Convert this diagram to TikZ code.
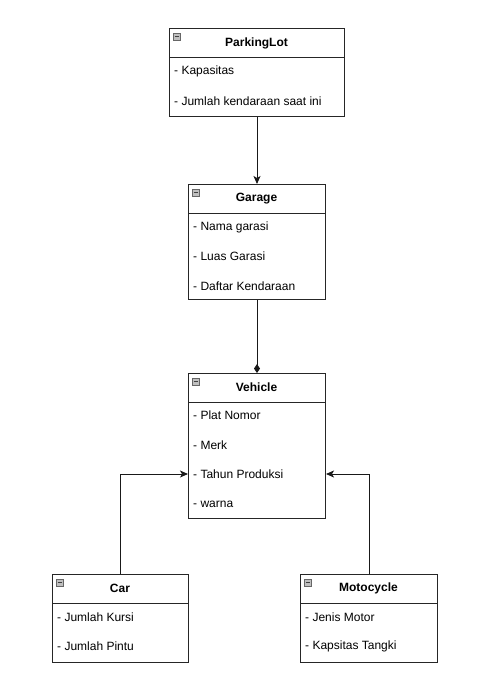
\documentclass[tikz,border=0pt]{standalone}
\usepackage{fontspec}
\setmainfont{Liberation Sans}
\usetikzlibrary{arrows.meta}
\begin{document}
\begin{tikzpicture}[x=1pt,y=-1pt,
  every node/.style={font=\fontsize{12}{14}\selectfont},
  umlbox/.style={draw=black!85, line width=1pt, anchor=north west, inner sep=0pt, fill=white},
  title/.style={font=\fontsize{12}{14}\selectfont\bfseries, anchor=center, inner sep=0pt},
  item/.style={anchor=west, inner sep=0pt},
  sep/.style={draw=black!85, line width=1pt},
  icon/.style={draw=black!60, fill=black!25, line width=0.6pt, minimum size=7pt, inner sep=0pt, anchor=north west,
    path picture={\draw[black!75, line width=1.2pt] ([xshift=1.3pt]path picture bounding box.west) -- ([xshift=-1.3pt]path picture bounding box.east);}},
  conn/.style={draw=black!90, line width=1pt},
  arr/.style={conn, -{Stealth[length=8pt,width=7pt,inset=2pt]}},
  comp/.style={conn, -{Diamond[length=9pt,width=6pt]}}
]
\useasboundingbox (0,0) rectangle (482,675);

% ParkingLot
\node[umlbox, minimum width=175pt, minimum height=88pt] (pl) at (169,28) {};
\draw[sep] (169,57) -- (344,57);
\node[icon] (plicon) at (173,33) {};
\node[title] (plt) at (256.5,43) {ParkingLot};
\node[item] (pl1) at (174,71) {- Kapasitas};
\node[item] (pl2) at (174,101) {- Jumlah kendaraan saat ini};

% Garage
\node[umlbox, minimum width=137pt, minimum height=115pt] (ga) at (188,184) {};
\draw[sep] (188,213) -- (325,213);
\node[icon] (gaicon) at (192,189) {};
\node[title] (gat) at (256.5,198.5) {Garage};
\node[item] (ga1) at (193,227) {- Nama garasi};
\node[item] (ga2) at (193,256) {- Luas Garasi};
\node[item] (ga3) at (193,286) {- Daftar Kendaraan};

% Vehicle
\node[umlbox, minimum width=137pt, minimum height=145pt] (ve) at (188,373) {};
\draw[sep] (188,402) -- (325,402);
\node[icon] (veicon) at (192,378) {};
\node[title] (vet) at (256.5,387.5) {Vehicle};
\node[item] (ve1) at (193,415) {- Plat Nomor};
\node[item] (ve2) at (193,445) {- Merk};
\node[item] (ve3) at (193,474) {- Tahun Produksi};
\node[item] (ve4) at (193,504) {- warna};

% Car
\node[umlbox, minimum width=136pt, minimum height=88pt] (car) at (52,574) {};
\draw[sep] (52,603) -- (188,603);
\node[icon] (caricon) at (56,579) {};
\node[title] (cart) at (120,588.5) {Car};
\node[item] (car1) at (57,617) {- Jumlah Kursi};
\node[item] (car2) at (57,646) {- Jumlah Pintu};

% Motocycle
\node[umlbox, minimum width=137pt, minimum height=88pt] (mo) at (300,574) {};
\draw[sep] (300,603) -- (437,603);
\node[icon] (moicon) at (304,579) {};
\node[title] (mot) at (368.5,588.5) {Motocycle};
\node[item] (mo1) at (305,617) {- Jenis Motor};
\node[item] (mo2) at (305,646) {- Kapsitas Tangki};

% connectors
\draw[arr] (pl.south) -- (ga.north);
\draw[comp] (ga.south) -- (ve.north);
\draw[arr] (car.north) |- (ve.west |- ve3);
\draw[arr] (mo.north) |- (ve.east |- ve3);
\end{tikzpicture}
\end{document}
